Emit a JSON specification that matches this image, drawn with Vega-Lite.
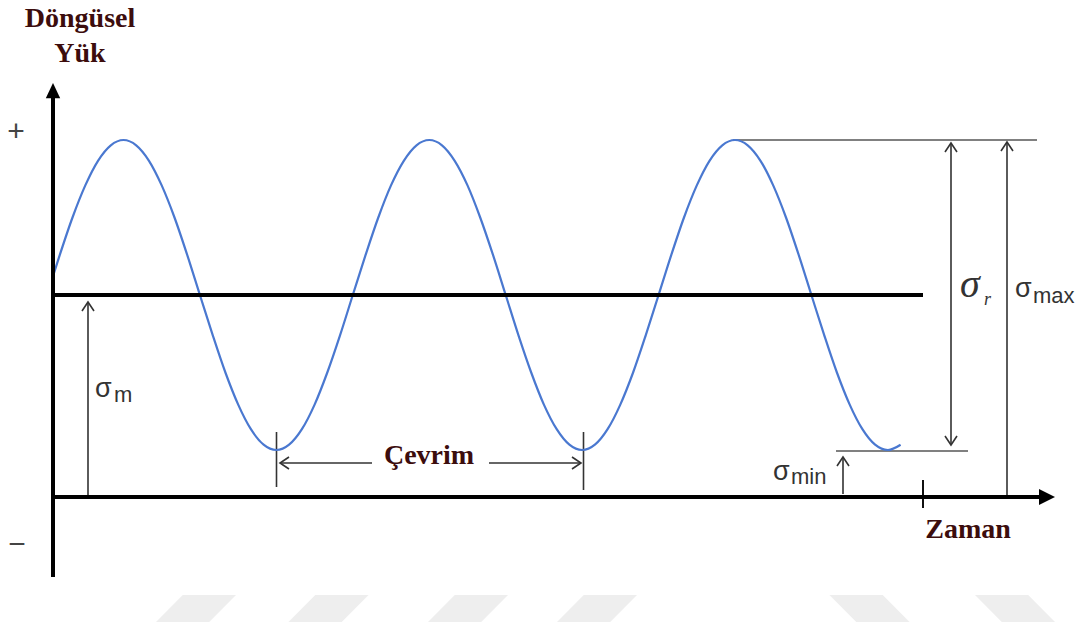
{
  "$schema": "https://vega.github.io/schema/vega-lite/v6.json",
  "width": 1079,
  "height": 628,
  "padding": 0,
  "autosize": {"type": "fit", "contains": "padding"},
  "background": "#ffffff",
  "config": {"view": {"stroke": null}},
  "datasets": {
    "wave": [
      {"t":0,"s":220.9},{"t":6.8,"s":242.1},{"t":19.5,"s":279.5},{"t":32.3,"s":311.6},{"t":45.0,"s":336.2},{"t":57.8,"s":351.7},{"t":70.5,"s":357},
      {"t":83.2,"s":351.7},{"t":96.0,"s":336.2},{"t":108.7,"s":311.6},{"t":121.5,"s":279.5},{"t":134.2,"s":242.1},{"t":146.9,"s":202},{"t":159.7,"s":161.9},{"t":172.4,"s":124.5},{"t":185.2,"s":92.4},{"t":197.9,"s":67.8},{"t":210.6,"s":52.3},{"t":223.4,"s":47},{"t":236.1,"s":52.3},{"t":248.9,"s":67.8},{"t":261.6,"s":92.4},{"t":274.3,"s":124.5},{"t":287.1,"s":161.9},{"t":299.8,"s":202},{"t":312.6,"s":242.1},{"t":325.3,"s":279.5},{"t":338.0,"s":311.6},{"t":350.8,"s":336.2},{"t":363.5,"s":351.7},{"t":376.3,"s":357},
      {"t":389.0,"s":351.7},{"t":401.7,"s":336.2},{"t":414.5,"s":311.6},{"t":427.2,"s":279.5},{"t":440.0,"s":242.1},{"t":452.7,"s":202},{"t":465.4,"s":161.9},{"t":478.2,"s":124.5},{"t":490.9,"s":92.4},{"t":503.7,"s":67.8},{"t":516.4,"s":52.3},{"t":529.1,"s":47},{"t":541.9,"s":52.3},{"t":554.6,"s":67.8},{"t":567.3,"s":92.4},{"t":580.1,"s":124.5},{"t":592.8,"s":161.9},{"t":605.6,"s":202},{"t":618.3,"s":242.1},{"t":631.0,"s":279.5},{"t":643.8,"s":311.6},{"t":656.5,"s":336.2},{"t":669.3,"s":351.7},{"t":682.0,"s":357},
      {"t":694.7,"s":351.7},{"t":707.5,"s":336.2},{"t":720.2,"s":311.6},{"t":733.0,"s":279.5},{"t":745.7,"s":242.1},{"t":758.4,"s":202},{"t":771.2,"s":161.9},{"t":783.9,"s":124.5},{"t":796.7,"s":92.4},{"t":809.4,"s":67.8},{"t":822.1,"s":52.3},{"t":834.9,"s":47},{"t":847.6,"s":52.3}
    ],
    "segs": [
      {"role":"axis","t":0,"t2":0,"s":-80,"s2":402},
      {"role":"axis","t":0,"t2":988,"s":0,"s2":0},
      {"role":"axis","t":0,"t2":870,"s":202,"s2":202},
      {"role":"thin","t":35,"t2":35,"s":0,"s2":195},
      {"role":"thin","t":223.5,"t2":223.5,"s":10,"s2":65},
      {"role":"thin","t":530.5,"t2":530.5,"s":7,"s2":65},
      {"role":"thin","t":227,"t2":319,"s":34,"s2":34},
      {"role":"thin","t":436,"t2":528,"s":34,"s2":34},
      {"role":"thin","t":790,"t2":790,"s":3,"s2":40},
      {"role":"thin","t":898,"t2":898,"s":52,"s2":354},
      {"role":"thin","t":954,"t2":954,"s":0,"s2":355},
      {"role":"gray","t":680,"t2":984,"s":357,"s2":357},
      {"role":"gray","t":783,"t2":915,"s":46,"s2":46},
      {"role":"tick","t":870,"t2":870,"s":-11,"s2":17}
    ],
    "heads": [
      {"t":35,"s":195,"dir":"up"},
      {"t":227,"s":34,"dir":"left"},
      {"t":528,"s":34,"dir":"right"},
      {"t":790,"s":40,"dir":"up"},
      {"t":898,"s":354,"dir":"up"},
      {"t":898,"s":52,"dir":"down"},
      {"t":954,"s":355,"dir":"up"}
    ],
    "tips": [
      {"t":0,"s":414,"dir":"up"},
      {"t":1002,"s":0,"dir":"right"}
    ],
    "marks": [
      {"t":143,"s":-111.5,"dir":"slash"},
      {"t":275.5,"s":-111.5,"dir":"slash"},
      {"t":415,"s":-111.5,"dir":"slash"},
      {"t":544,"s":-111.5,"dir":"slash"},
      {"t":816.5,"s":-111.5,"dir":"back"},
      {"t":962,"s":-111.5,"dir":"back"}
    ],
    "labels": [
      {"label":"Döngüsel","t":27,"s":470,"role":"title"},
      {"label":"Yük","t":27,"s":435,"role":"title"},
      {"label":"Çevrim","t":376,"s":33,"role":"title"},
      {"label":"Zaman","t":915,"s":-41,"role":"title"},
      {"label":"+","t":-37,"s":365,"role":"sign"},
      {"label":"−","t":-36,"s":-48,"role":"sign"},
      {"label":"σ","t":42,"s":100,"role":"sigma"},
      {"label":"σ","t":720,"s":17,"role":"sigma"},
      {"label":"σ","t":962,"s":200,"role":"sigma"},
      {"label":"m","t":61,"s":95,"role":"sub"},
      {"label":"min","t":738,"s":13,"role":"sub"},
      {"label":"max","t":980,"s":194,"role":"sub"},
      {"label":"σ","t":907,"s":200,"role":"sigmaI"},
      {"label":"r","t":931,"s":192,"role":"subI"}
    ]
  },
  "encoding": {
    "x": {"field":"t","type":"quantitative","scale":{"domain":[-53,1026],"nice":false,"zero":false},"axis":null},
    "y": {"field":"s","type":"quantitative","scale":{"domain":[-131,497],"nice":false,"zero":false},"axis":null}
  },
  "layer": [
    {
      "data": {"name":"marks"},
      "mark": {"type":"point","filled":true,"color":"#eeeeee","size":6400,"opacity":1,"strokeWidth":0},
      "encoding": {
        "shape": {"field":"dir","type":"nominal","legend":null,
          "scale":{"domain":["slash","back"],"range":["M-1,0.34L-0.33,-0.34L1,-0.34L0.33,0.34Z","M-1,-0.34L0.33,-0.34L1,0.34L-0.33,0.34Z"]}}
      }
    },
    {
      "data": {"name":"segs"},
      "transform": [{"filter":"datum.role === 'gray'"}],
      "mark": {"type":"rule","color":"#808080","strokeWidth":2},
      "encoding": {"x2":{"field":"t2"},"y2":{"field":"s2"}}
    },
    {
      "data": {"name":"segs"},
      "transform": [{"filter":"datum.role === 'thin'"}],
      "mark": {"type":"rule","color":"#333333","strokeWidth":1.6},
      "encoding": {"x2":{"field":"t2"},"y2":{"field":"s2"}}
    },
    {
      "data": {"name":"segs"},
      "transform": [{"filter":"datum.role === 'tick'"}],
      "mark": {"type":"rule","color":"#111111","strokeWidth":2},
      "encoding": {"x2":{"field":"t2"},"y2":{"field":"s2"}}
    },
    {
      "data": {"name":"wave"},
      "mark": {"type":"line","color":"#4a78d0","strokeWidth":2.2,"interpolate":"monotone"}
    },
    {
      "data": {"name":"segs"},
      "transform": [{"filter":"datum.role === 'axis'"}],
      "mark": {"type":"rule","color":"#000000","strokeWidth":4},
      "encoding": {"x2":{"field":"t2"},"y2":{"field":"s2"}}
    },
    {
      "data": {"name":"heads"},
      "mark": {"type":"point","filled":false,"color":"#333333","strokeWidth":1.6,"size":144,"opacity":1},
      "encoding": {
        "shape": {"field":"dir","type":"nominal","legend":null,
          "scale":{"domain":["up","down","left","right"],"range":["M-1,1.5L0,0L1,1.5","M-1,-1.5L0,0L1,-1.5","M1.5,-1L0,0L1.5,1","M-1.5,-1L0,0L-1.5,1"]}}
      }
    },
    {
      "data": {"name":"tips"},
      "mark": {"type":"point","filled":true,"color":"#000000","size":256,"opacity":1,"strokeWidth":0},
      "encoding": {
        "shape": {"field":"dir","type":"nominal","legend":null,
          "scale":{"domain":["up","right"],"range":["M0,0L-0.9,1.9L0.9,1.9Z","M0,0L-2,-1L-2,1Z"]}}
      }
    },
    {
      "data": {"name":"labels"},
      "transform": [{"filter":"datum.role === 'title'"}],
      "mark": {"type":"text","font":"Liberation Serif","fontWeight":"bold","fontSize":28,"color":"#3c0d0d","align":"center","baseline":"alphabetic"},
      "encoding": {"text":{"field":"label"}}
    },
    {
      "data": {"name":"labels"},
      "transform": [{"filter":"datum.role === 'sign'"}],
      "mark": {"type":"text","font":"Liberation Sans","fontSize":30,"color":"#444444","align":"center","baseline":"middle"},
      "encoding": {"text":{"field":"label"}}
    },
    {
      "data": {"name":"labels"},
      "transform": [{"filter":"datum.role === 'sigma'"}],
      "mark": {"type":"text","font":"Liberation Sans","fontSize":27,"color":"#333333","align":"left","baseline":"alphabetic"},
      "encoding": {"text":{"field":"label"}}
    },
    {
      "data": {"name":"labels"},
      "transform": [{"filter":"datum.role === 'sub'"}],
      "mark": {"type":"text","font":"Liberation Sans","fontSize":22,"color":"#333333","align":"left","baseline":"alphabetic"},
      "encoding": {"text":{"field":"label"}}
    },
    {
      "data": {"name":"labels"},
      "transform": [{"filter":"datum.role === 'sigmaI'"}],
      "mark": {"type":"text","font":"Liberation Serif","fontStyle":"italic","fontSize":40,"color":"#333333","align":"left","baseline":"alphabetic"},
      "encoding": {"text":{"field":"label"}}
    },
    {
      "data": {"name":"labels"},
      "transform": [{"filter":"datum.role === 'subI'"}],
      "mark": {"type":"text","font":"Liberation Serif","fontStyle":"italic","fontSize":18,"color":"#333333","align":"left","baseline":"alphabetic"},
      "encoding": {"text":{"field":"label"}}
    }
  ],
  "resolve": {"scale": {"shape": "independent"}}
}
